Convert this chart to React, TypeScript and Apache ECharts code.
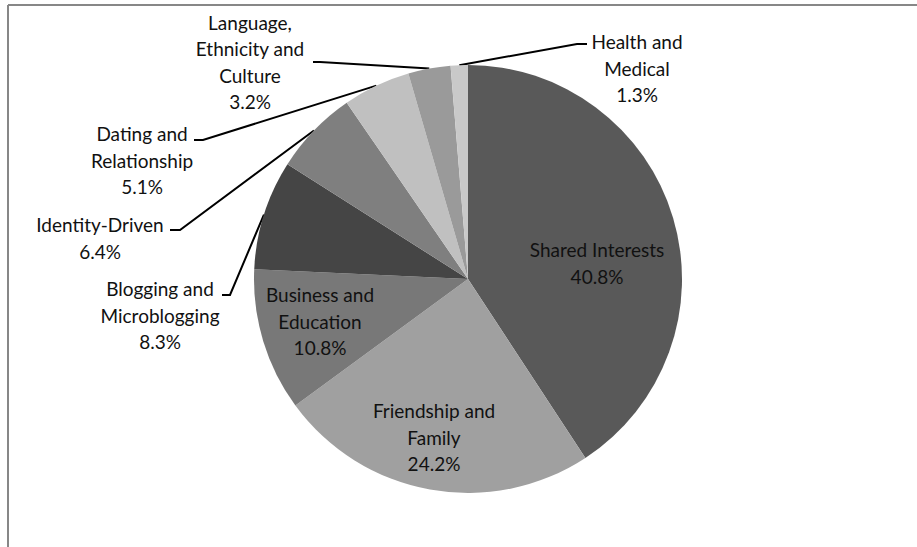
import React, { useEffect, useRef } from "react";
import * as echarts from "echarts";

const categories = [
  "Shared Interests",
  "Friendship and\nFamily",
  "Business and\nEducation",
  "Blogging and\nMicroblogging",
  "Identity-Driven",
  "Dating and\nRelationship",
  "Language,\nEthnicity and\nCulture",
  "Health and\nMedical",
];
const values = [40.8, 24.2, 10.8, 8.3, 6.4, 5.1, 3.2, 1.3];
const colors = ["#595959", "#a0a0a0", "#787878", "#454545", "#7f7f7f", "#c0c0c0", "#9a9a9a", "#c9c9c9"];
const outsideLabel = [false, false, false, true, true, true, true, true];

// label placement: centre x, centre y, and for outside labels the short tick [labelSideX, bendX, y]
const labelPlacement: { x: number; y: number; tick?: [number, number, number] }[] = [
  { x: 597, y: 263 },
  { x: 434, y: 437 },
  { x: 320, y: 321 },
  { x: 160, y: 315, tick: [222, 230, 295] },
  { x: 100, y: 238, tick: [170, 180, 230] },
  { x: 142, y: 160, tick: [194, 203, 140] },
  { x: 250, y: 62, tick: [313, 320, 62] },
  { x: 637, y: 68, tick: [587, 577, 44] },
];

const CX = 468;
const CY = 279;
const R = 214;

export default function App() {
  const ref = useRef<HTMLDivElement>(null);
  useEffect(() => {
    if (!ref.current) return;
    const chart = echarts.init(ref.current, null, { renderer: "svg" });
    const total = values.reduce((a, b) => a + b, 0);
    let cum = 0;
    const midAngles = values.map((v) => {
      const m = cum + v / 2;
      cum += v;
      return (m / total) * Math.PI * 2;
    });
    const data = categories.map((name, i) => ({
      name,
      value: values[i],
      itemStyle: { color: colors[i] },
      label: { position: outsideLabel[i] ? "outside" : "inside" },
      labelLine: { show: outsideLabel[i] },
    }));
    chart.setOption({
      animation: false,
      backgroundColor: "#ffffff",
      graphic: [
        { type: "line", shape: { x1: 8, y1: 5, x2: 917, y2: 5 }, style: { stroke: "#878787", lineWidth: 2 }, silent: true },
        { type: "line", shape: { x1: 8, y1: 5, x2: 8, y2: 547 }, style: { stroke: "#878787", lineWidth: 2 }, silent: true },
      ],
      series: [
        {
          type: "pie",
          center: [CX, CY],
          radius: R,
          startAngle: 90,
          clockwise: true,
          avoidLabelOverlap: false,
          data,
          itemStyle: { borderWidth: 0 },
          emphasis: { disabled: true },
          label: {
            show: true,
            color: "#111111",
            fontFamily: "Lato",
            fontSize: 19,
            lineHeight: 26.5,
            align: "center",
            formatter: (p: any) => `${p.name}\n${values[p.dataIndex].toFixed(1)}%`,
          },
          labelLine: {
            lineStyle: { color: "#000000", width: 2 },
            smooth: false,
          },
          labelLayout: (p: any) => {
            const lp = labelPlacement[p.dataIndex];
            const out: any = { x: lp.x, y: lp.y, align: "center", verticalAlign: "middle" };
            if (lp.tick) {
              const a = midAngles[p.dataIndex];
              const edge =
                p.labelLinePoints && p.labelLinePoints[0]
                  ? p.labelLinePoints[0]
                  : [CX + R * Math.sin(a), CY - R * Math.cos(a)];
              out.labelLinePoints = [edge, [lp.tick[1], lp.tick[2]], [lp.tick[0], lp.tick[2]]];
            }
            return out;
          },
        },
      ],
    });
    return () => chart.dispose();
  }, []);
  return (
    <div
      ref={ref}
      style={{ position: "fixed", left: 0, top: 0, width: 917, height: 547 }}
    />
  );
}
